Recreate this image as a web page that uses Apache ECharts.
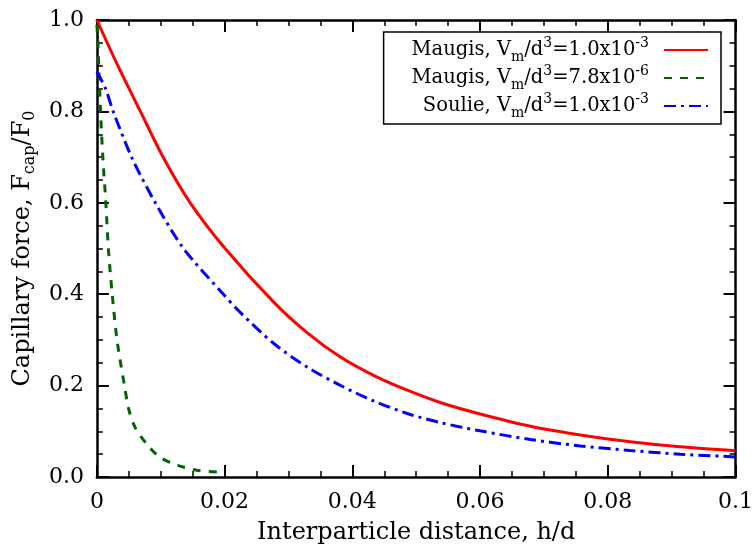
<!DOCTYPE html>
<html>
<head>
<meta charset="utf-8">
<script src="https://cdn.jsdelivr.net/npm/echarts@6/dist/echarts.min.js"></script>
<style>html,body{margin:0;padding:0;background:#fff}#c{width:756px;height:550px}</style>
</head>
<body>
<div id="c"></div>
<script>
// Data
var hRed = [0, 0.00328, 0.00681, 0.01045, 0.01461, 0.02008, 0.0278, 0.033, 0.0382, 0.0434, 0.0486, 0.054, 0.06, 0.0679, 0.0757, 0.0835, 0.0913, 0.1];
var fRed = [1.0, 0.9, 0.8, 0.698, 0.6, 0.5, 0.381, 0.315, 0.262, 0.222, 0.19, 0.162, 0.138, 0.111, 0.092, 0.077, 0.066, 0.0575];
var hGreen = [0, 0.00016, 0.00057, 0.00094, 0.0014, 0.0018, 0.0024, 0.00317, 0.00432, 0.005, 0.006, 0.0078, 0.0099, 0.0128, 0.0156, 0.0195];
var fGreen = [0.99, 0.95, 0.8, 0.698, 0.6, 0.5, 0.4, 0.298, 0.2, 0.148, 0.108, 0.072, 0.043, 0.025, 0.015, 0.010];
var hBlue = [0, 0.00135, 0.00255, 0.0055, 0.00915, 0.01357, 0.0198, 0.0226, 0.0278, 0.033, 0.0382, 0.0434, 0.0486, 0.0538, 0.06, 0.0679, 0.0757, 0.0835, 0.0913, 0.1];
var fBlue = [0.887, 0.85, 0.8, 0.698, 0.6, 0.5, 0.4, 0.358, 0.291, 0.240, 0.2, 0.166, 0.139, 0.119, 0.101, 0.082, 0.068, 0.058, 0.050, 0.044];
var seriesNames = ['Maugis, V{sub|m}/d{sup|3}=1.0x10{sup|-3}', 'Maugis, V{sub|m}/d{sup|3}=7.8x10{sup|-6}', 'Soulie, V{sub|m}/d{sup|3}=1.0x10{sup|-3}'];
var xTitle = 'Interparticle distance, h/d';
var yTitle = 'Capillary force, F{sub|cap}/F{sub|0}';

function pairs(xs, ys) { return xs.map(function (x, i) { return [x, ys[i]]; }); }

var FONT = 'DejaVu Serif';
var chart = echarts.init(document.getElementById('c'), null, {renderer: 'canvas'});

function axisCommon() {
  return {
    axisLine: {show: true, onZero: false, lineStyle: {color: '#000', width: 2.5}},
    axisTick: {show: true, inside: true, length: 12, lineStyle: {color: '#000', width: 2}},
    minorTick: {show: true, splitNumber: 4, length: 6, lineStyle: {color: '#000', width: 1.5}},
    splitLine: {show: false},
    minorSplitLine: {show: false}
  };
}

var option = {
  animation: false,
  backgroundColor: '#fff',
  grid: {left: 95, right: 20, top: 20, bottom: 72},
  legend: {
    orient: 'vertical',
    right: 35,
    top: 32,
    align: 'right',
    itemWidth: 44,
    itemHeight: 14,
    itemGap: 0,
    padding: [4, 12, 4, 28],
    borderColor: '#000',
    borderWidth: 1.5,
    backgroundColor: '#fff',
    itemStyle: {opacity: 0},
    textStyle: {
      fontFamily: FONT, fontSize: 19.5, color: '#000', lineHeight: 28, padding: [0, 10, 0, 0],
      rich: {
        sub: {fontFamily: FONT, fontSize: 14, color: '#000', verticalAlign: 'bottom', lineHeight: 14},
        sup: {fontFamily: FONT, fontSize: 14, color: '#000', verticalAlign: 'top', lineHeight: 14}
      }
    },
    data: seriesNames
  },
  xAxis: [
    Object.assign({
      type: 'value', min: 0, max: 0.1, interval: 0.02, position: 'bottom',
      axisLabel: {fontFamily: FONT, fontSize: 22, color: '#000', margin: 14},
      name: xTitle, nameLocation: 'middle', nameGap: 44,
      nameTextStyle: {fontFamily: FONT, fontSize: 24, color: '#000'}
    }, axisCommon()),
    Object.assign({
      type: 'value', min: 0, max: 0.1, interval: 0.02, position: 'top',
      axisLabel: {show: false}
    }, axisCommon())
  ],
  yAxis: [
    Object.assign({
      type: 'value', min: 0, max: 1, interval: 0.2, position: 'left',
      axisLabel: {fontFamily: FONT, fontSize: 22, color: '#000', margin: 13,
        formatter: function (v) { return v.toFixed(1); }},
      name: yTitle, nameLocation: 'middle', nameGap: 48,
      nameTextStyle: {fontFamily: FONT, fontSize: 24, color: '#000', lineHeight: 30,
        rich: {
          sub: {fontFamily: FONT, fontSize: 16, color: '#000', verticalAlign: 'bottom', lineHeight: 18}
        }}
    }, axisCommon()),
    Object.assign({
      type: 'value', min: 0, max: 1, interval: 0.2, position: 'right',
      axisLabel: {show: false}
    }, axisCommon())
  ],
  series: [
    {
      name: seriesNames[0], type: 'line', xAxisIndex: 0, yAxisIndex: 0,
      data: pairs(hRed, fRed), smooth: 0.3, showSymbol: false, symbol: 'none',
      lineStyle: {color: '#ff0000', width: 3, type: 'solid'}, itemStyle: {color: '#ff0000'}
    },
    {
      name: seriesNames[1], type: 'line', xAxisIndex: 0, yAxisIndex: 0,
      data: pairs(hGreen, fGreen), smooth: 0.3, showSymbol: false, symbol: 'none',
      lineStyle: {color: '#006400', width: 3, type: [8, 8]}, itemStyle: {color: '#006400'}
    },
    {
      name: seriesNames[2], type: 'line', xAxisIndex: 0, yAxisIndex: 0,
      data: pairs(hBlue, fBlue), smooth: 0.3, showSymbol: false, symbol: 'none',
      lineStyle: {color: '#0000ff', width: 3, type: [12, 5, 3, 5]}, itemStyle: {color: '#0000ff'}
    }
  ]
};
chart.setOption(option);
</script>
</body>
</html>
